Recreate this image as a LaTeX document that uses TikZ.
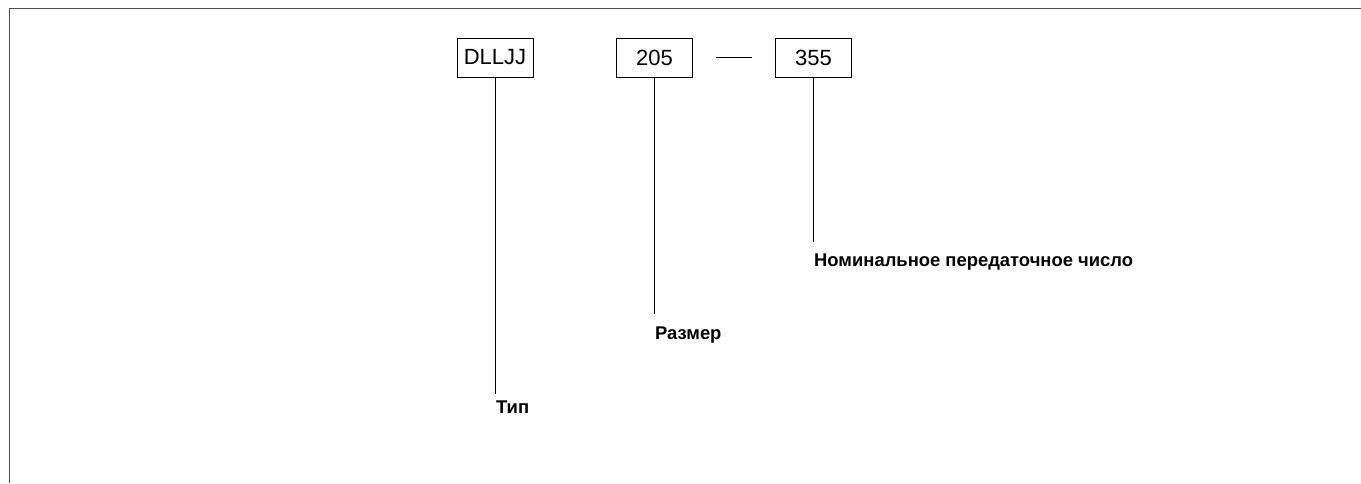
\documentclass[tikz,border=0pt]{standalone}
\usepackage{fontspec}
\setmainfont{Liberation Sans}
\begin{document}
\begin{tikzpicture}[x=1pt,y=-1pt,
  codebox/.style={draw, line width=0.9pt, minimum width=76pt, minimum height=39pt, inner sep=0pt, font=\fontsize{22}{24}\selectfont},
  lead/.style={line width=0.9pt},
  lbl/.style={anchor=base west, inner sep=0pt, font=\bfseries\fontsize{18.4}{21}\selectfont},
  frame/.style={draw=black!70, line width=1pt}]
\useasboundingbox (0,0) rectangle (1361,483);
\draw[frame] (9.5,483) -- (9.5,8) -- (1361,8);
\node[codebox] (b1) at (495,57.5) {DLLJJ};
\node[codebox] (b2) at (654.5,57.5) {205};
\node[codebox] (b3) at (813.5,57.5) {355};
\draw[lead] ([xshift=23pt]b2.east) -- ([xshift=-23pt]b3.west);
\coordinate (e1) at (495,394);
\coordinate (e2) at (654.5,314);
\coordinate (e3) at (813.5,242);
\node[lbl] (l1) at (496,413) {Тип};
\node[lbl] (l2) at (655,339) {Размер};
\node[lbl] (l3) at (814,266) {Номинальное передаточное число};
\draw[lead] (b1.south) -- (e1);
\draw[lead] (b2.south) -- (e2);
\draw[lead] (b3.south) -- (e3);
\end{tikzpicture}
\end{document}
